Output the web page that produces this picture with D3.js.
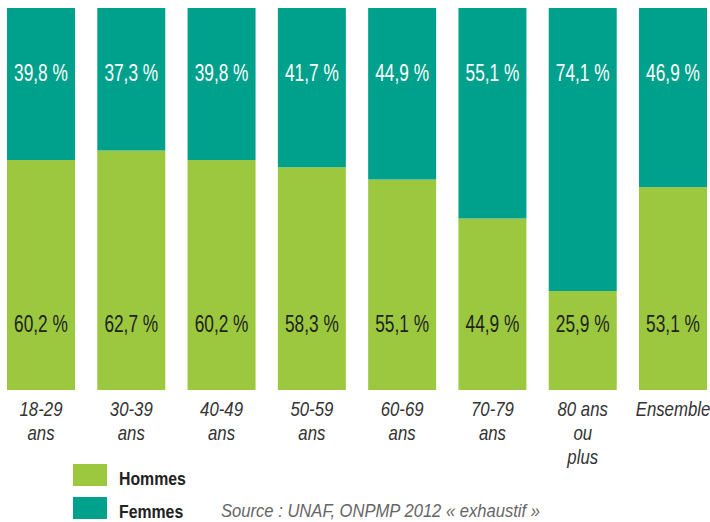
<!DOCTYPE html>
<html>
<head>
<meta charset="utf-8">
<script src="https://cdn.jsdelivr.net/npm/d3@7"></script>
<style>
  body { margin: 0; background: #fff; }
  svg { display: block; }
</style>
</head>
<body>
<div id="chart"></div>
<script>
// age groups, each label split on lines
const categories = ["18-29 ans", "30-39 ans", "40-49 ans", "50-59 ans", "60-69 ans", "70-79 ans", "80 ans ou plus", "Ensemble"];
const categoryLines = [["18-29", "ans"], ["30-39", "ans"], ["40-49", "ans"], ["50-59", "ans"], ["60-69", "ans"], ["70-79", "ans"], ["80 ans", "ou", "plus"], ["Ensemble"]];
const hommes = [60.2, 62.7, 60.2, 58.3, 55.1, 44.9, 25.9, 53.1];
const femmes = [39.8, 37.3, 39.8, 41.7, 44.9, 55.1, 74.1, 46.9];
const seriesNames = ["Hommes", "Femmes"];
const sourceText = "Source : UNAF, ONPMP 2012 « exhaustif »";

const width = 710;
const height = 522;
const green = "#9bc83e";
const teal = "#00a18c";
// the original uses a condensed face; squeeze Liberation Sans horizontally
const font = "'Liberation Sans', Arial, sans-serif";

const svg = d3
  .select("#chart")
  .append("svg")
  .attr("width", width)
  .attr("height", height);

const x = d3.scaleBand().domain(categories).range([7, 707]).paddingInner(0.247).paddingOuter(0);
const y = d3.scaleLinear().domain([0, 100]).range([390, 8]);

const rows = categories.map((c, i) => ({ cat: c, hommes: hommes[i], femmes: femmes[i] }));
const stack = d3.stack().keys(["hommes", "femmes"])(rows);
const colors = { hommes: green, femmes: teal };

svg
  .append("g")
  .selectAll("g")
  .data(stack)
  .join("g")
  .attr("fill", (d) => colors[d.key])
  .selectAll("rect")
  .data((d) => d)
  .join("rect")
  .attr("x", (d) => x(d.data.cat))
  .attr("width", x.bandwidth())
  .attr("y", (d) => y(d[1]))
  .attr("height", (d) => y(d[0]) - y(d[1]));

const fmt = (v) => v.toFixed(1).replace(".", ",") + " %";
const cx = (c) => x(c) + x.bandwidth() / 2;

function valueLabels(key, yPos, fill) {
  svg
    .append("g")
    .selectAll("g")
    .data(rows)
    .join("g")
    .attr("transform", (d) => `translate(${cx(d.cat)}, ${yPos}) scale(0.72, 1)`)
    .append("text")
    .attr("text-anchor", "middle")
    .attr("fill", fill)
    .attr("font-family", font)
    .attr("font-size", 24)
    .text((d) => fmt(d[key]));
}

valueLabels("femmes", 81, "#fff");
valueLabels("hommes", 332, "#222");

// category labels
const catLabels = svg
  .append("g")
  .selectAll("g")
  .data(categories)
  .join("g")
  .attr("transform", (d) => `translate(${cx(d)}, 416) scale(0.84, 1)`)
  .append("text")
  .attr("text-anchor", "middle")
  .attr("fill", "#333")
  .attr("font-family", font)
  .attr("font-style", "italic")
  .attr("font-size", 20);

catLabels
  .selectAll("tspan")
  .data((d) => categoryLines[categories.indexOf(d)])
  .join("tspan")
  .attr("x", 0)
  .attr("dy", (d, i) => (i === 0 ? 0 : 24))
  .text((d) => d);

// legend
const legend = svg
  .append("g")
  .selectAll("g")
  .data(seriesNames)
  .join("g")
  .attr("transform", (d, i) => `translate(73, ${464 + i * 33})`);

legend
  .append("rect")
  .attr("width", 34)
  .attr("height", 22)
  .attr("fill", (d, i) => (i === 0 ? green : teal));

legend
  .append("g")
  .attr("transform", "translate(46, 21) scale(0.88, 1)")
  .append("text")
  .attr("fill", "#222")
  .attr("font-family", font)
  .attr("font-weight", "bold")
  .attr("font-size", 18)
  .text((d) => d);

svg
  .append("text")
  .attr("x", 221)
  .attr("y", 517)
  .attr("fill", "#666")
  .attr("font-family", font)
  .attr("font-style", "italic")
  .attr("font-size", 18)
  .attr("textLength", 319)
  .attr("lengthAdjust", "spacingAndGlyphs")
  .text(sourceText);
</script>
</body>
</html>
